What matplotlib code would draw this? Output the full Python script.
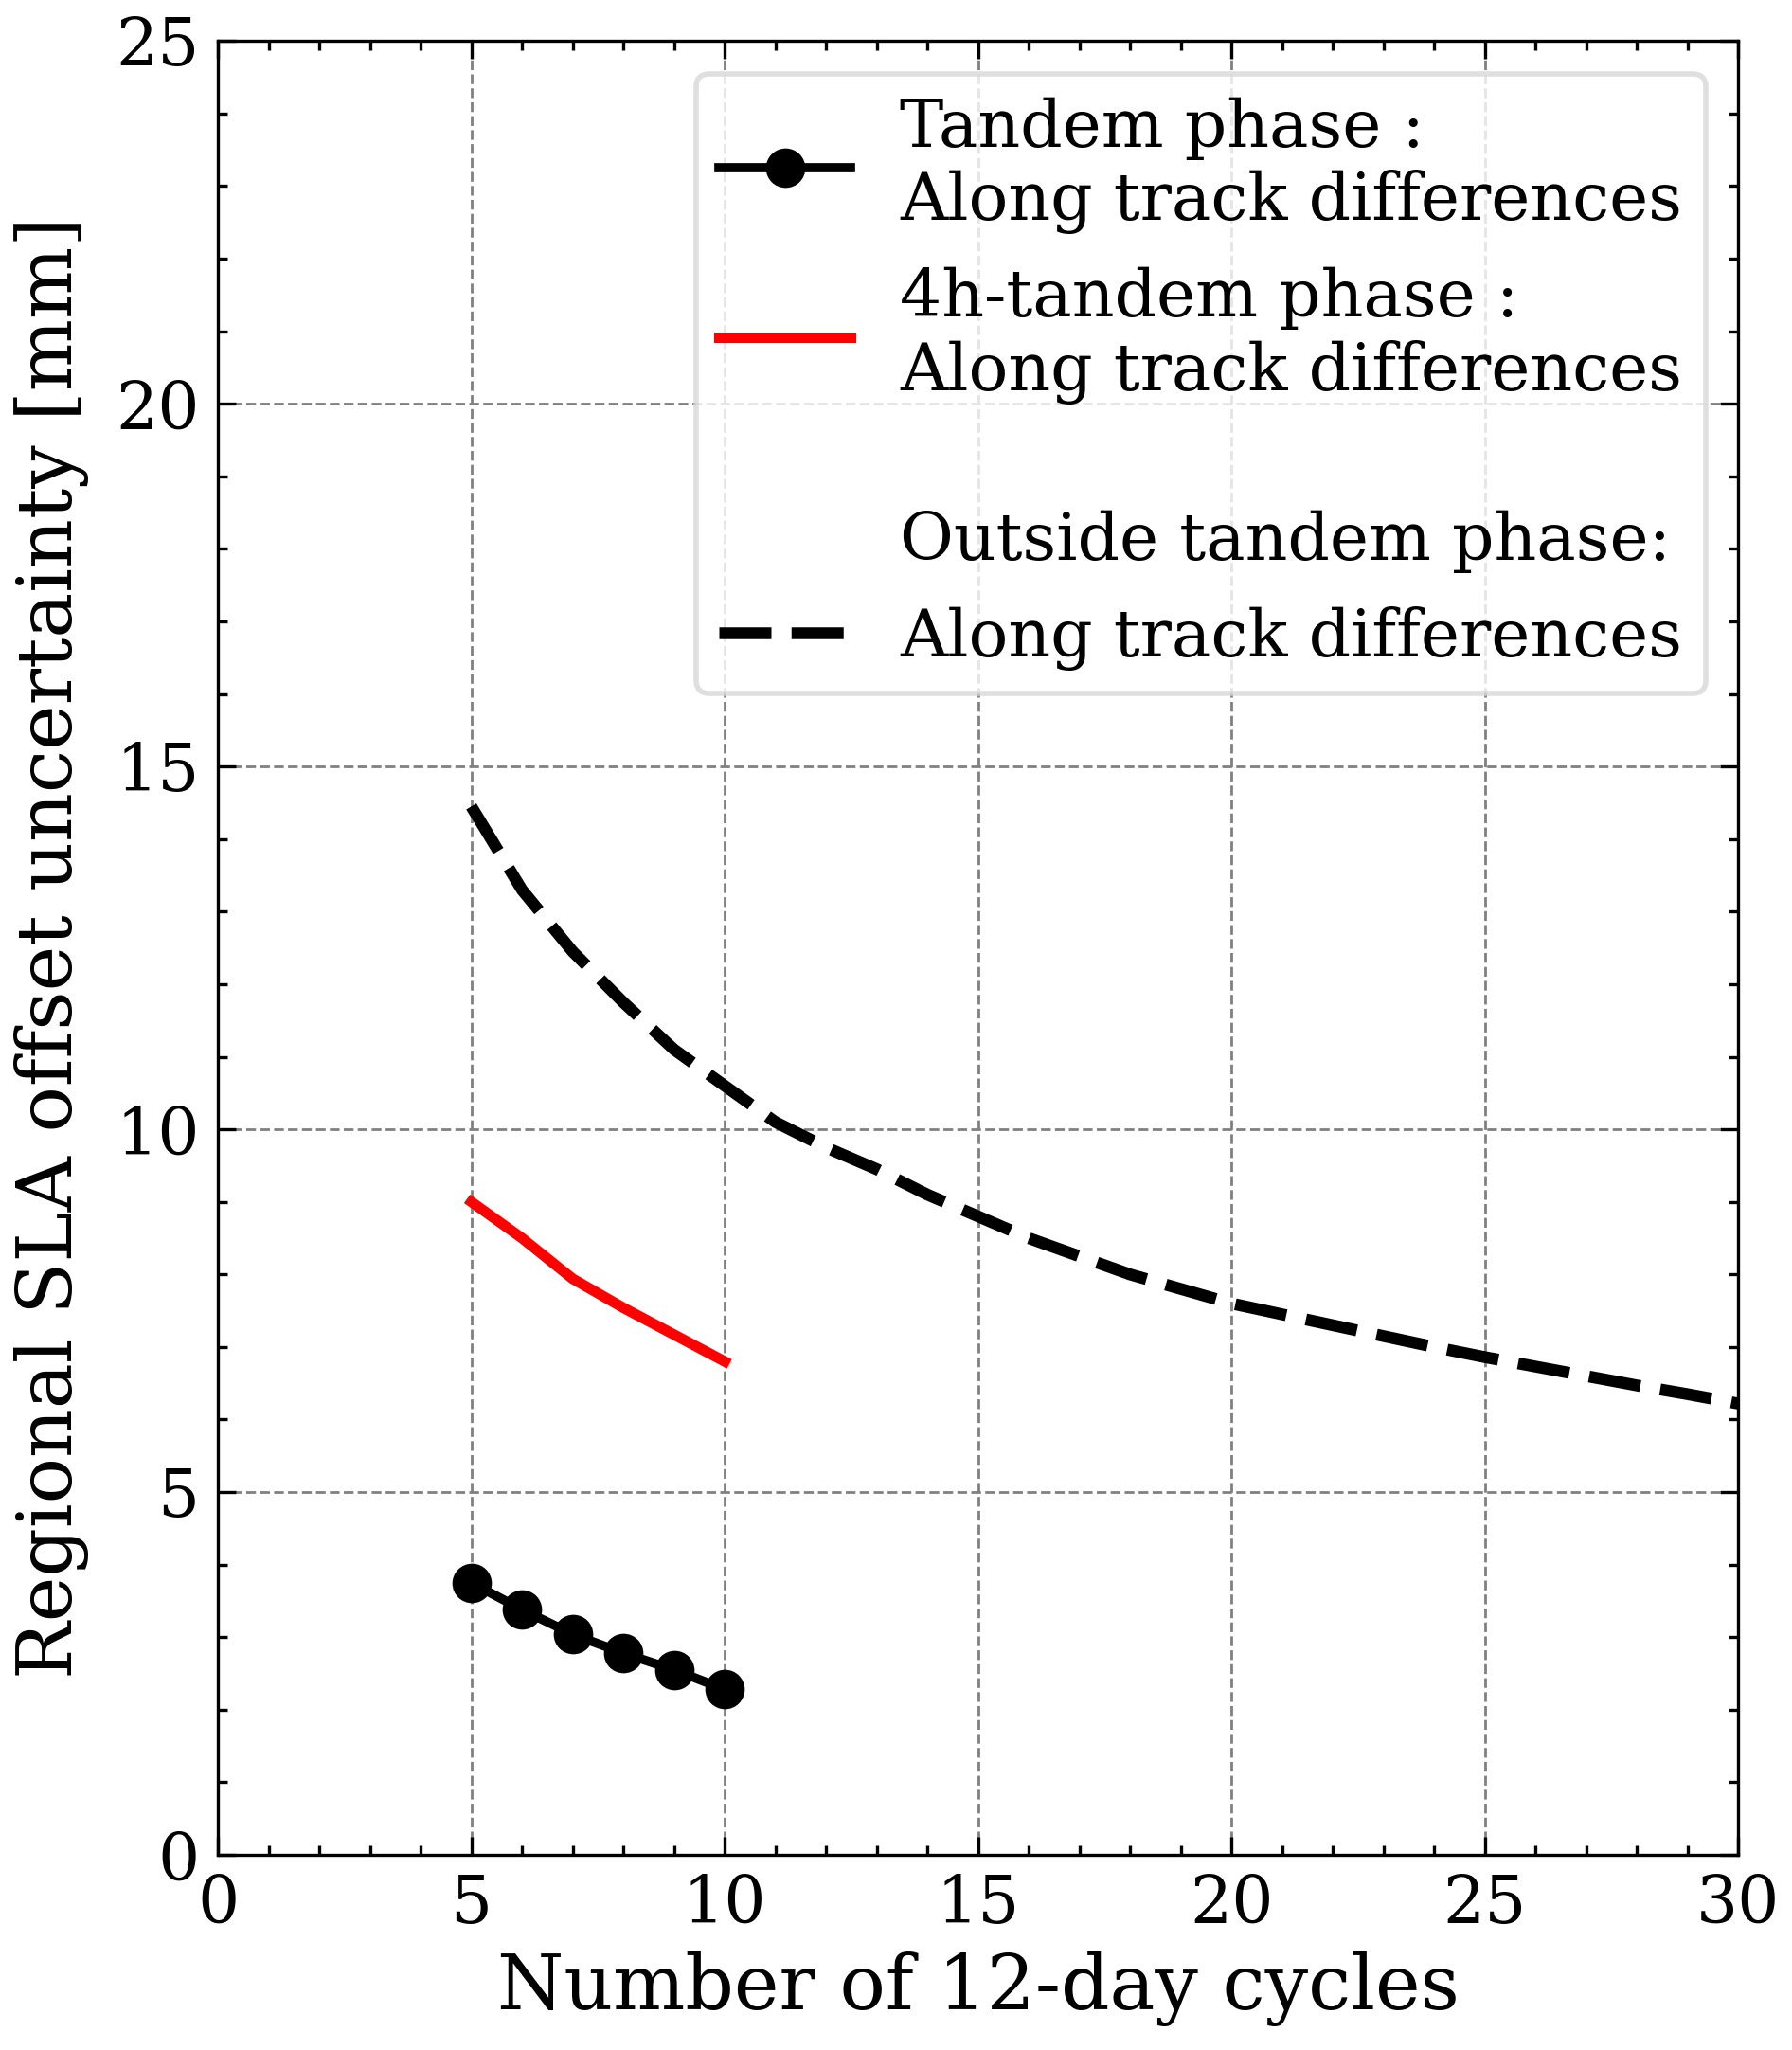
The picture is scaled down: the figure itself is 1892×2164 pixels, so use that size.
import matplotlib
matplotlib.use('Agg')
import matplotlib.pyplot as plt
from matplotlib.ticker import MultipleLocator

# values
cycles_tandem = [5, 6, 7, 8, 9, 10]
unc_tandem = [3.75, 3.38, 3.04, 2.78, 2.55, 2.28]

cycles_4h = [5, 6, 7, 8, 9, 10]
unc_4h = [9.0, 8.5, 7.94, 7.54, 7.17, 6.80]

cycles_outside = list(range(5, 31))
unc_outside = [14.45, 13.3, 12.45, 11.75, 11.1, 10.6, 10.1, 9.75, 9.45, 9.1,
               8.8, 8.5, 8.25, 8.0, 7.8, 7.6, 7.45, 7.3, 7.15, 7.0,
               6.86, 6.73, 6.6, 6.47, 6.35, 6.22]

lbl_tandem = 'Tandem phase :\nAlong track differences'
lbl_4h = '4h-tandem phase :\nAlong track differences'
lbl_outside_head = '\nOutside tandem phase:'
lbl_outside = 'Along track differences'

plt.rcParams['font.family'] = 'DejaVu Serif'
plt.rcParams['mathtext.fontset'] = 'dejavuserif'

fig = plt.figure(figsize=(9.46, 10.82), dpi=200)
ax = fig.add_axes([0.1216, 0.0952, 0.8484, 0.8848])

ax.plot(cycles_tandem, unc_tandem, color='black', lw=3.5, marker='o',
        markersize=14, label=lbl_tandem, zorder=3)
ax.plot(cycles_4h, unc_4h, color='red', lw=4, label=lbl_4h, zorder=3)
# invisible entry for the heading of the last legend item
ax.plot([], [], color='none', label=lbl_outside_head)
ax.plot(cycles_outside, unc_outside, color='black', lw=4.5,
        dashes=(4.4, 1.7), label=lbl_outside, zorder=3)

ax.set_xlim(0, 30)
ax.set_ylim(0, 25)
ax.xaxis.set_major_locator(MultipleLocator(5))
ax.xaxis.set_minor_locator(MultipleLocator(1))
ax.yaxis.set_major_locator(MultipleLocator(5))
ax.yaxis.set_minor_locator(MultipleLocator(1))
ax.tick_params(which='both', direction='in', top=True, right=True,
               labelsize=25, width=1.2)
ax.tick_params(which='major', length=7, pad=7)
ax.tick_params(which='minor', length=3.5)
for s in ax.spines.values():
    s.set_linewidth(1.2)

ax.grid(True, which='major', linestyle='--', color='gray', lw=1.0)
ax.set_axisbelow(True)

ax.set_xlabel('Number of 12-day cycles', fontsize=29, labelpad=6)
ax.set_ylabel('Regional SLA offset uncertainty [mm]', fontsize=29, labelpad=10)

leg = ax.legend(loc='upper right', fontsize=25, handlelength=2.0,
                handletextpad=0.75, borderpad=0.35, labelspacing=0.5,
                fancybox=True, framealpha=0.8)
leg.get_frame().set_linewidth(2.0)
leg.get_frame().set_edgecolor('#d8d8d8')

fig.savefig('out.png', dpi=200)
